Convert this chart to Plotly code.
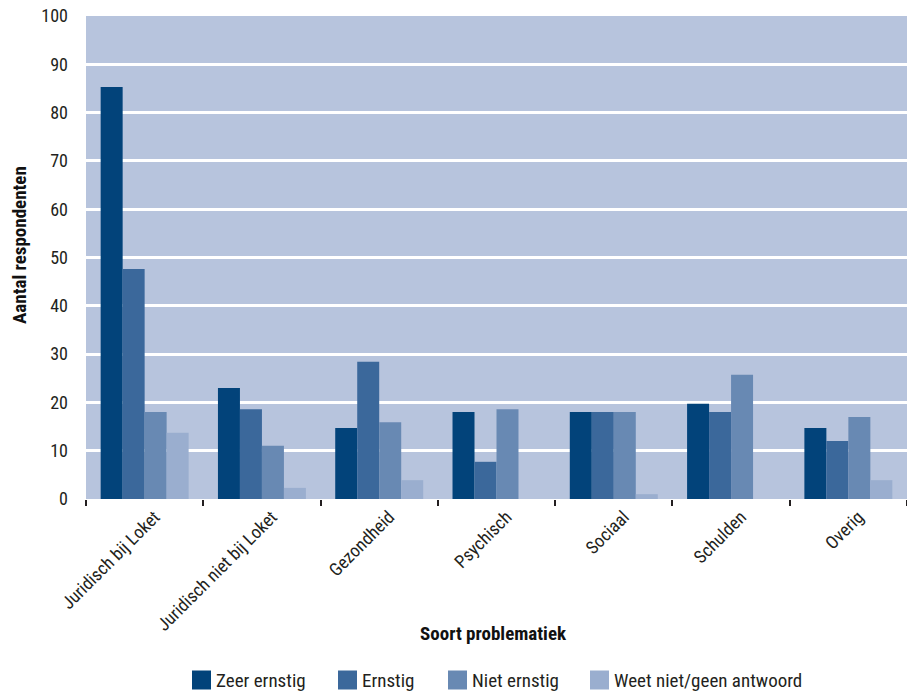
import plotly.graph_objects as go

categories = ["Juridisch bij Loket", "Juridisch niet bij Loket", "Gezondheid",
              "Psychisch", "Sociaal", "Schulden", "Overig"]
series_names = ["Zeer ernstig", "Ernstig", "Niet ernstig", "Weet niet/geen antwoord"]
zeer_ernstig = [85.3, 23.0, 14.7, 18.0, 18.0, 19.7, 14.7]
ernstig = [47.6, 18.6, 28.4, 7.7, 18.0, 18.0, 12.0]
niet_ernstig = [18.0, 11.0, 15.9, 18.6, 18.0, 25.7, 17.0]
weet_niet = [13.7, 2.3, 3.9, 0, 1.0, 0, 3.9]
colors = ["#02437a", "#3b689b", "#6889b3", "#9aaecf"]

FONT = "Liberation Sans Narrow, Roboto Condensed, Liberation Sans, Arial"
TEXT = "#231f20"
W, H = 907, 695
ML, MR, MT, MB = 86, 0, 16, 196
PW, PH = W - ML - MR, H - MT - MB


def px_x(x):
    return (x - ML) / PW


def px_y(y):
    return (H - MB - y) / PH


fig = go.Figure()
for name, vals, col in zip(series_names, [zeer_ernstig, ernstig, niet_ernstig, weet_niet], colors):
    fig.add_trace(go.Bar(x=categories, y=vals, name=name, marker_color=col,
                         marker_line_width=0, showlegend=False))

# Manual legend row below the chart: colour square + label
legend_x = [192, 338, 448, 590]  # left edge of each swatch, px
legend_y = 680
sw = 19
for name, col, lx in zip(series_names, colors, legend_x):
    fig.add_shape(type="rect", xref="paper", yref="paper",
                  x0=px_x(lx), x1=px_x(lx + sw),
                  y0=px_y(legend_y + sw / 2), y1=px_y(legend_y - sw / 2),
                  fillcolor=col, line_width=0)
    fig.add_annotation(text=name, xref="paper", yref="paper", showarrow=False,
                       x=px_x(lx + sw + 3), xanchor="left",
                       y=px_y(legend_y), yanchor="middle",
                       font=dict(family=FONT, size=19, color=TEXT))

# Axis titles
fig.add_annotation(text="<b>Soort problematiek</b>", xref="paper", yref="paper", showarrow=False,
                   x=px_x(493), xanchor="center", y=px_y(633), yanchor="middle",
                   font=dict(family=FONT, size=19, color="#111"))
fig.add_annotation(text="<b>Aantal respondenten</b>", xref="paper", yref="paper", showarrow=False,
                   x=px_x(19), xanchor="center", y=px_y(245), yanchor="middle", textangle=-90,
                   font=dict(family=FONT, size=19, color="#111"))

fig.update_layout(
    width=W, height=H,
    margin=dict(l=ML, r=MR, t=MT, b=MB),
    paper_bgcolor="white",
    plot_bgcolor="#b7c4dd",
    barmode="group", bargap=0.25, bargroupgap=0,
    showlegend=False,
    font=dict(family=FONT, size=18, color=TEXT),
    xaxis=dict(tickangle=-45, tickson="boundaries", ticks="outside", ticklen=6,
               tickwidth=1.5, tickcolor="#231f20", showgrid=False, showline=False,
               automargin=False, ticklabelshift=10, ticklabelstandoff=3,
               tickfont=dict(family=FONT, size=18, color=TEXT)),
    yaxis=dict(range=[0, 100], dtick=10, showgrid=True, gridcolor="white", gridwidth=2.5,
               zeroline=False, showline=False, ticks="", automargin=False,
               ticklabelstandoff=17,
               tickfont=dict(family=FONT, size=18, color=TEXT)),
)

fig.write_html("out.html")
